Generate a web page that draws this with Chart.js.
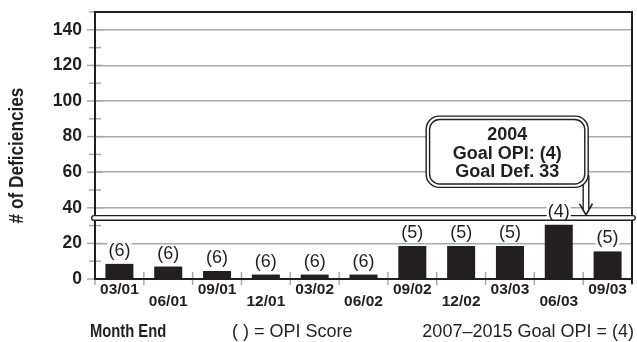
<!DOCTYPE html>
<html>
<head>
<meta charset="utf-8">
<script src="https://cdn.jsdelivr.net/npm/chart.js@4.4.1/dist/chart.umd.min.js"></script>
<style>
  html, body { margin: 0; padding: 0; background: #fff; }
  canvas { display: block; }
</style>
</head>
<body>
<canvas id="c" width="637" height="342" style="width:637px;height:342px"></canvas>
<script>
// Quarter-end months
const categories = ['03/01', '06/01', '09/01', '12/01', '03/02', '06/02', '09/02', '12/02', '03/03', '06/03', '09/03'];
// Number of deficiencies at each month end
const deficiencies = [8.5, 7, 4.5, 2.5, 2.5, 2.5, 18.5, 18.5, 18.5, 30.5, 15.5];
// OPI score shown in parentheses above each bar
const opiScores = [6, 6, 6, 6, 6, 6, 5, 5, 5, 4, 5];
// 2004 goal
const goalYear = '2004';
const goalOpi = 4;
const goalDef = 33;
// Y axis
const yMin = 0, yMax = 150, yStep = 10, yLabelStep = 20;

const INK = '#231f20';
const GRID = '#a4abaf';
const FONT = '"Liberation Sans", Arial, Helvetica, sans-serif';

Chart.defaults.font.family = FONT;
Chart.defaults.color = INK;

function roundRectPath(ctx, x, y, w, h, r) {
  ctx.beginPath();
  ctx.moveTo(x + r, y);
  ctx.lineTo(x + w - r, y);
  ctx.arcTo(x + w, y, x + w, y + r, r);
  ctx.lineTo(x + w, y + h - r);
  ctx.arcTo(x + w, y + h, x + w - r, y + h, r);
  ctx.lineTo(x + r, y + h);
  ctx.arcTo(x, y + h, x, y + h - r, r);
  ctx.lineTo(x, y + r);
  ctx.arcTo(x, y, x + r, y, r);
  ctx.closePath();
}

// Bold text squeezed horizontally to a condensed look
function condensedText(ctx, txt, x, y, size, squeeze, align) {
  ctx.save();
  ctx.translate(x, y);
  ctx.scale(squeeze, 1);
  ctx.font = 'bold ' + size + 'px ' + FONT;
  ctx.textAlign = align;
  ctx.textBaseline = 'alphabetic';
  ctx.fillText(txt, 0, 0);
  ctx.restore();
}

// Tick marks crossing the axes, drawn beneath the bars
const tickMarks = {
  id: 'tickMarks',
  beforeDatasetsDraw(chart) {
    const { ctx, chartArea: a, scales: { y } } = chart;
    ctx.save();
    ctx.strokeStyle = GRID;
    ctx.lineWidth = 1.5;
    y.ticks.forEach(t => {
      const py = y.getPixelForValue(t.value);
      const major = t.value % yLabelStep === 0;
      ctx.beginPath();
      ctx.moveTo(a.left - (major ? 8 : 6), py);
      ctx.lineTo(a.left + (major ? 8 : 6), py);
      ctx.stroke();
    });
    const n = categories.length;
    for (let i = 0; i <= n; i++) {
      const px = a.left + (a.right - a.left) * i / n;
      ctx.beginPath();
      ctx.moveTo(px, a.bottom - 7);
      ctx.lineTo(px, a.bottom + 6);
      ctx.stroke();
    }
    ctx.restore();
  }
};

// Frame, goal line, value labels, callout and captions
const overlay = {
  id: 'overlay',
  afterDatasetsDraw(chart) {
    const { ctx, chartArea: a, scales: { x, y } } = chart;
    ctx.save();

    // frame
    ctx.strokeStyle = INK;
    ctx.lineWidth = 2;
    ctx.beginPath();
    ctx.moveTo(a.left, a.bottom + 1);
    ctx.lineTo(a.left, a.top);
    ctx.lineTo(a.right, a.top);
    ctx.lineTo(a.right, a.bottom + 5);
    ctx.stroke();
    ctx.beginPath();
    ctx.moveTo(a.left, a.bottom);
    ctx.lineTo(a.right, a.bottom);
    ctx.stroke();

    // goal deficiencies: double line
    const yb = y.getPixelForValue(goalDef);
    const yt = yb - 4.6;
    const ym = (yt + yb) / 2, r = (yb - yt) / 2;
    const x0 = a.left - 1, x1 = a.right + 1;
    ctx.fillStyle = '#fff';
    ctx.fillRect(x0, yt, x1 - x0, yb - yt);
    ctx.lineWidth = 1.4;
    ctx.beginPath();
    ctx.moveTo(x1, yt);
    ctx.lineTo(x0, yt);
    ctx.arc(x0, ym, r, -Math.PI / 2, Math.PI / 2, true);
    ctx.lineTo(x1, yb);
    ctx.arc(x1, ym, r, Math.PI / 2, -Math.PI / 2, true);
    ctx.stroke();

    // OPI score labels
    const meta = chart.getDatasetMeta(0);
    ctx.font = '18px ' + FONT;
    ctx.textAlign = 'center';
    ctx.textBaseline = 'middle';
    meta.data.forEach((bar, i) => {
      const txt = '(' + opiScores[i] + ')';
      const w = ctx.measureText(txt).width;
      const cy = bar.y - 14;
      ctx.fillStyle = '#fff';
      ctx.fillRect(bar.x - w / 2 - 1, cy - 7, w + 2, 14);
      ctx.fillStyle = INK;
      ctx.fillText(txt, bar.x, cy + 1);
    });

    // callout box
    const boundary = (x.getPixelForValue(9) + x.getPixelForValue(10)) / 2;
    const bx1 = boundary + 5, bx0 = bx1 - 162;
    const by0 = y.getPixelForValue(91.5), by1 = y.getPixelForValue(51.5);
    const ax = boundary + 2.8;
    // arrow shaft
    ctx.fillStyle = '#fff';
    ctx.fillRect(ax - 3, by1 - 10, 6, yt - 6 - (by1 - 10));
    ctx.strokeStyle = INK;
    ctx.lineWidth = 1.4;
    ctx.beginPath();
    ctx.moveTo(ax + 2.8, by1 - 12); ctx.lineTo(ax + 2.8, yt - 6);
    ctx.moveTo(ax - 2.8, by1 - 4); ctx.lineTo(ax - 2.8, yt - 6);
    ctx.stroke();
    ctx.lineWidth = 1.6;
    ctx.beginPath();
    ctx.moveTo(ax - 6.5, yt - 12);
    ctx.lineTo(ax, yt - 0.8);
    ctx.lineTo(ax + 6.5, yt - 12);
    ctx.stroke();
    // box
    roundRectPath(ctx, bx0, by0, bx1 - bx0, by1 - by0, 13);
    ctx.fillStyle = '#fff';
    ctx.fill();
    ctx.lineWidth = 1.4;
    ctx.stroke();
    roundRectPath(ctx, bx0 + 3.4, by0 + 3.4, bx1 - bx0 - 6.8, by1 - by0 - 6.8, 10);
    ctx.stroke();
    ctx.fillStyle = INK;
    ctx.font = 'bold 18px ' + FONT;
    const cx = (bx0 + bx1) / 2;
    ctx.fillText(goalYear, cx, by0 + 19);
    ctx.fillText('Goal OPI: (' + goalOpi + ')', cx, by0 + 38);
    ctx.fillText('Goal Def. ' + goalDef, cx, by0 + 56);

    // y axis title
    ctx.save();
    ctx.translate(23, (a.top + a.bottom) / 2 + 10);
    ctx.rotate(-Math.PI / 2);
    condensedText(ctx, '# of Deficiencies', 0, 0, 21, 0.82, 'center');
    ctx.restore();

    // captions under the axis
    condensedText(ctx, 'Month End', 90, 336.5, 18, 0.82, 'left');
    ctx.textBaseline = 'alphabetic';
    ctx.textAlign = 'left';
    ctx.font = '18px ' + FONT;
    ctx.fillText('( ) = OPI Score', 232, 336.5);
    ctx.textAlign = 'right';
    ctx.fillText('2007\u20132015 Goal OPI = (' + goalOpi + ')', 634, 336.5);

    ctx.restore();
  }
};

new Chart(document.getElementById('c'), {
  type: 'bar',
  data: {
    labels: categories,
    datasets: [{
      data: deficiencies,
      backgroundColor: INK,
      borderWidth: 0,
      categoryPercentage: 1,
      barPercentage: 0.574
    }]
  },
  options: {
    responsive: false,
    animation: false,
    devicePixelRatio: 1,
    layout: { padding: { top: 12, right: 5, left: 0, bottom: 0 } },
    plugins: { legend: { display: false }, tooltip: { enabled: false } },
    scales: {
      x: {
        grid: { display: false, drawTicks: false },
        border: { display: false },
        ticks: {
          autoSkip: false,
          maxRotation: 0,
          padding: 5,
          color: INK,
          font: { size: 15.5, weight: 'bold', lineHeight: 12 / 15.5 },
          callback: (v, i) => (i % 2 ? ['', categories[i]] : categories[i])
        },
        afterFit: s => { s.height = 63; }
      },
      y: {
        min: yMin,
        max: yMax,
        border: { display: false },
        grid: {
          drawTicks: false,
          lineWidth: 1.5,
          color: c => (c.tick && c.tick.value % yLabelStep === 0 && c.tick.value > yMin && c.tick.value < yMax) ? GRID : 'rgba(0,0,0,0)'
        },
        ticks: {
          stepSize: yStep,
          autoSkip: false,
          padding: 13,
          color: INK,
          font: { size: 17.5, weight: 'bold', lineHeight: 1 },
          callback: v => (v % yLabelStep === 0 && v < yMax ? String(v) : '')
        },
        afterFit: s => { s.width = 95; s.paddingTop = 0; s.paddingBottom = 0; }
      }
    }
  },
  plugins: [tickMarks, overlay]
});
</script>
</body>
</html>
